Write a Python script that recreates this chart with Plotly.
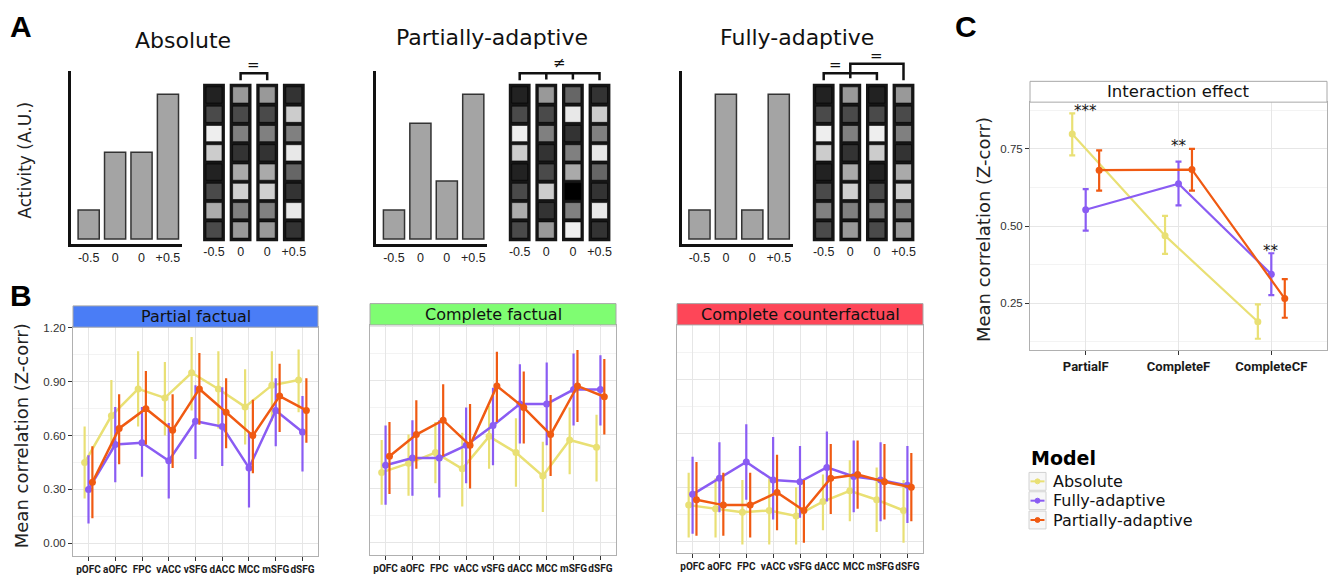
import plotly.graph_objects as go

W, H = 1330, 579
FONT = "DejaVu Sans"
NARROW = "Liberation Sans, Arial"
CONDENSED = "Roboto, Liberation Sans, Arial"
HEAVY = "Liberation Sans, Arial"

# ---------------- DATA ----------------
# Panel A : hypothetical activity (A.U.) for the four outcome levels
A_LEVELS = ["-0.5", "0", "0", "+0.5"]
A_TITLES = ["Absolute", "Partially-adaptive", "Fully-adaptive"]
ACT_ABSOLUTE = [1, 3, 3, 5]
ACT_PARTIAL = [1, 4, 2, 5]
ACT_FULLY = [1, 5, 1, 5]

# Panel A : voxel patterns (grey level 0 = black, 255 = white), one list per column, top -> bottom
PAT_ABSOLUTE = [
    [34, 74, 238, 204, 34, 74, 172, 74],
    [153, 74, 128, 51, 170, 208, 128, 153],
    [153, 74, 128, 51, 170, 208, 128, 153],
    [51, 204, 128, 232, 102, 51, 232, 51],
]
PAT_PARTIAL = [
    [34, 74, 238, 204, 34, 74, 172, 74],
    [153, 74, 128, 51, 74, 204, 51, 153],
    [102, 232, 51, 128, 170, 0, 128, 240],
    [51, 204, 128, 232, 102, 51, 232, 51],
]
PAT_FULLY = [
    [34, 74, 238, 204, 34, 74, 128, 74],
    [153, 74, 128, 51, 170, 208, 128, 153],
    [34, 74, 238, 204, 34, 74, 128, 74],
    [153, 74, 128, 51, 170, 208, 128, 153],
]

# Panel B
REGIONS = ["pOFC", "aOFC", "FPC", "vACC", "vSFG", "dACC", "MCC", "mSFG", "dSFG"]
CONDITIONS = ["Partial factual", "Complete factual", "Complete counterfactual"]
MODELS = ["Absolute", "Fully-adaptive", "Partially-adaptive"]

PF_ABS_MEAN = [0.45, 0.71, 0.86, 0.81, 0.95, 0.86, 0.76, 0.88, 0.91]
PF_ABS_UP = [0.65, 0.91, 1.07, 1.01, 1.15, 1.07, 0.97, 1.07, 1.08]
PF_ABS_LO = [0.25, 0.51, 0.65, 0.60, 0.74, 0.64, 0.55, 0.68, 0.73]
PF_FUL_MEAN = [0.30, 0.55, 0.56, 0.46, 0.68, 0.65, 0.42, 0.74, 0.62]
PF_FUL_UP = [0.49, 0.76, 0.76, 0.67, 0.88, 0.87, 0.62, 0.92, 0.82]
PF_FUL_LO = [0.11, 0.34, 0.37, 0.25, 0.47, 0.43, 0.20, 0.54, 0.40]
PF_PAR_MEAN = [0.34, 0.64, 0.75, 0.63, 0.86, 0.73, 0.60, 0.82, 0.74]
PF_PAR_UP = [0.54, 0.83, 0.96, 0.83, 1.06, 0.92, 0.80, 1.00, 0.92]
PF_PAR_LO = [0.14, 0.44, 0.55, 0.42, 0.66, 0.53, 0.39, 0.62, 0.56]

CF_ABS_MEAN = [0.39, 0.44, 0.50, 0.41, 0.59, 0.50, 0.37, 0.57, 0.53]
CF_ABS_UP = [0.57, 0.60, 0.67, 0.61, 0.76, 0.69, 0.56, 0.75, 0.71]
CF_ABS_LO = [0.21, 0.26, 0.33, 0.20, 0.41, 0.31, 0.17, 0.38, 0.34]
CF_FUL_MEAN = [0.43, 0.47, 0.47, 0.54, 0.65, 0.77, 0.77, 0.85, 0.85]
CF_FUL_UP = [0.65, 0.68, 0.68, 0.75, 0.86, 0.99, 1.00, 1.05, 1.04]
CF_FUL_LO = [0.21, 0.26, 0.25, 0.33, 0.43, 0.55, 0.54, 0.65, 0.65]
CF_PAR_MEAN = [0.48, 0.60, 0.68, 0.54, 0.87, 0.75, 0.60, 0.87, 0.81]
CF_PAR_UP = [0.67, 0.79, 0.88, 0.77, 1.06, 0.95, 0.82, 1.07, 1.02]
CF_PAR_LO = [0.27, 0.41, 0.48, 0.30, 0.67, 0.55, 0.37, 0.67, 0.60]

CCF_ABS_MEAN = [0.20, 0.18, 0.16, 0.17, 0.14, 0.22, 0.28, 0.23, 0.17]
CCF_ABS_UP = [0.38, 0.35, 0.34, 0.35, 0.30, 0.37, 0.45, 0.41, 0.34]
CCF_ABS_LO = [0.02, 0.02, -0.02, -0.02, -0.02, 0.06, 0.11, 0.05, -0.01]
CCF_FUL_MEAN = [0.26, 0.35, 0.44, 0.34, 0.33, 0.41, 0.36, 0.34, 0.31]
CCF_FUL_UP = [0.47, 0.55, 0.65, 0.58, 0.53, 0.61, 0.56, 0.55, 0.53]
CCF_FUL_LO = [0.04, 0.16, 0.23, 0.12, 0.13, 0.22, 0.16, 0.11, 0.10]
CCF_PAR_MEAN = [0.23, 0.20, 0.20, 0.27, 0.17, 0.35, 0.37, 0.33, 0.30]
CCF_PAR_UP = [0.44, 0.38, 0.38, 0.48, 0.34, 0.54, 0.56, 0.54, 0.49]
CCF_PAR_LO = [0.03, 0.03, 0.02, 0.06, -0.01, 0.15, 0.18, 0.12, 0.11]

# Panel C
C_CATS = ["PartialF", "CompleteF", "CompleteCF"]
C_ABS_MEAN = [0.798, 0.469, 0.190]
C_ABS_UP = [0.865, 0.533, 0.246]
C_ABS_LO = [0.729, 0.410, 0.135]
C_FUL_MEAN = [0.553, 0.637, 0.344]
C_FUL_UP = [0.620, 0.709, 0.412]
C_FUL_LO = [0.485, 0.567, 0.276]
C_PAR_MEAN = [0.681, 0.683, 0.265]
C_PAR_UP = [0.745, 0.750, 0.328]
C_PAR_LO = [0.615, 0.615, 0.203]
C_STARS = ["***", "**", "**"]

# ---------------- STYLE ----------------
MODEL_COLORS = {"Absolute": "#E9E074", "Fully-adaptive": "#8A5CF3", "Partially-adaptive": "#F05A12"}
STRIP_COLORS = ["#4A7DF6", "#7FFD72", "#FE4658"]


def px(x):
    return x / W


def py(y):
    return 1 - y / H


def sfx(i):
    return "" if i == 1 else str(i)


fig = go.Figure()
layout = {}
shapes = []
annotations = []


def note(text, x, y, size, family=FONT, color="#111", xref="paper", yref="paper", **kw):
    d = dict(text=text, x=x, y=y, xref=xref, yref=yref, showarrow=False,
             xanchor="center", yanchor="middle", font=dict(family=family, size=size, color=color))
    d.update(kw)
    annotations.append(d)


def set_axes(i, xl, xr, yt, yb, xopts, yopts):
    layout["xaxis" + sfx(i)] = dict(domain=[px(xl), px(xr)], anchor="y" + sfx(i), **xopts)
    layout["yaxis" + sfx(i)] = dict(domain=[py(yb), py(yt)], anchor="x" + sfx(i), **yopts)


# ---------------- PANEL A ----------------
A_ACTS = [ACT_ABSOLUTE, ACT_PARTIAL, ACT_FULLY]
A_PATS = [PAT_ABSOLUTE, PAT_PARTIAL, PAT_FULLY]
A_BAR_LEFT = [70.7, 376.0, 681.5]
A_MAT_C0 = [214.0, 519.7, 823.7]
A_TITLE_X = [183, 491.7, 796.7]
A_TITLE_Y = [36, 33, 33]

for g in range(3):
    ib, im = g + 1, g + 4
    xl = A_BAR_LEFT[g]
    set_axes(ib, xl, xl + 111, 67, 241.5,
             dict(range=[-0.68, 3.52], showline=True, linecolor="#111", linewidth=2.5,
                  tickvals=[0, 1, 2, 3], ticktext=A_LEVELS, ticks="", showgrid=False, zeroline=False,
                  tickfont=dict(family=NARROW, size=12.5, color="#222")),
             dict(range=[-0.19, 5.79], showline=True, linecolor="#111", linewidth=2.5,
                  showticklabels=False, ticks="", showgrid=False, zeroline=False))
    c0 = A_MAT_C0[g]
    set_axes(im, c0 - 13.3, c0 + 93.1, 45, 240,
             dict(range=[-0.5, 3.5], showline=False, tickvals=[0, 1, 2, 3], ticktext=A_LEVELS,
                  ticks="", showgrid=False, zeroline=False,
                  tickfont=dict(family=NARROW, size=12.5, color="#222")),
             dict(range=[-0.17, 9.85], visible=False, showgrid=False, zeroline=False))

    fig.add_trace(go.Bar(x=[0, 1, 2, 3], y=A_ACTS[g], width=0.8,
                         marker=dict(color="#a4a4a4", line=dict(color="#333", width=1.5)),
                         xaxis="x" + sfx(ib), yaxis="y" + sfx(ib), showlegend=False, hoverinfo="skip"))
    pat = A_PATS[g]
    n_rows = len(pat[0])
    fig.add_trace(go.Bar(x=[0, 1, 2, 3], y=[n_rows + 0.16] * 4, base=[-0.08] * 4, width=0.82,
                         marker=dict(color="#151515", line=dict(width=0)),
                         xaxis="x" + sfx(im), yaxis="y" + sfx(im), showlegend=False, hoverinfo="skip"))
    xs, bases, cols = [], [], []
    for k, column in enumerate(pat):
        for r, lvl in enumerate(column):
            xs.append(k)
            bases.append(n_rows - 1 - r + 0.08)
            cols.append(f"rgb({lvl},{lvl},{lvl})")
    fig.add_trace(go.Bar(x=xs, y=[0.84] * len(xs), base=bases, width=0.6,
                         marker=dict(color=cols, line=dict(color="#000", width=0.6)),
                         xaxis="x" + sfx(im), yaxis="y" + sfx(im), showlegend=False, hoverinfo="skip"))

    note(A_TITLES[g], px(A_TITLE_X[g]), py(A_TITLE_Y[g]), 22)

# brackets over the pattern columns
BR = dict(color="#111", width=2.5)
shapes.append(dict(type="path", xref="x4", yref="y4", path="M 1,8.26 L 1,8.62 L 2,8.62 L 2,8.26", line=BR))
note("=", 1.5, 9.05, 15, xref="x4", yref="y4")
shapes.append(dict(type="path", xref="x5", yref="y5",
                   path="M 0,8.26 L 0,8.62 L 3,8.62 L 3,8.26 M 1,8.62 L 1,8.3 M 2,8.62 L 2,8.3", line=BR))
note("≠", 1.5, 9.17, 15, xref="x5", yref="y5")
shapes.append(dict(type="path", xref="x6", yref="y6", path="M 0,8.26 L 0,8.62 L 2,8.62 L 2,8.26", line=BR))
shapes.append(dict(type="path", xref="x6", yref="y6", path="M 1,8.36 L 1,9.12 L 3,9.12 L 3,8.26", line=BR))
note("=", 0.45, 9.03, 15, xref="x6", yref="y6")
note("=", 2.0, 9.5, 15, xref="x6", yref="y6")

note("Activity (A.U.)", px(25), py(157), 17, color="#222", textangle=-90)

# ---------------- PANEL B ----------------
B_SERIES = [
    [(PF_ABS_MEAN, PF_ABS_UP, PF_ABS_LO), (PF_FUL_MEAN, PF_FUL_UP, PF_FUL_LO), (PF_PAR_MEAN, PF_PAR_UP, PF_PAR_LO)],
    [(CF_ABS_MEAN, CF_ABS_UP, CF_ABS_LO), (CF_FUL_MEAN, CF_FUL_UP, CF_FUL_LO), (CF_PAR_MEAN, CF_PAR_UP, CF_PAR_LO)],
    [(CCF_ABS_MEAN, CCF_ABS_UP, CCF_ABS_LO), (CCF_FUL_MEAN, CCF_FUL_UP, CCF_FUL_LO), (CCF_PAR_MEAN, CCF_PAR_UP, CCF_PAR_LO)],
]
B_BOX = [(73, 318, 325, 556), (370, 616, 322.7, 555), (677, 923, 322.7, 553)]
B_YRANGE = [[-0.072, 1.204], [-0.07, 1.209], [-0.068, 1.204]]
STRIP_H = 21.5

for c in range(3):
    i = 7 + c
    xl, xr, yt, yb = B_BOX[c]
    set_axes(i, xl, xr, yt, yb,
             dict(type="category", categoryorder="array", categoryarray=REGIONS, range=[-0.58, 8.58],
                  showgrid=True, gridcolor="#e6e6e6", gridwidth=1, ticks="outside", ticklen=4,
                  tickcolor="#333", showline=True, mirror=True, linecolor="#b0b0b0", linewidth=1,
                  zeroline=False, tickangle=0,
                  tickfont=dict(family=CONDENSED, size=10, color="#1a1a1a", weight="bold")),
             dict(range=B_YRANGE[c], tick0=0, dtick=0.3, tickformat=".2f", showgrid=True,
                  gridcolor="#e6e6e6", gridwidth=1,
                  minor=dict(dtick=0.15, tick0=0, showgrid=True, gridcolor="#f3f3f3", ticks=""),
                  ticks="outside" if c == 0 else "", ticklen=4, tickcolor="#333",
                  showticklabels=(c == 0), showline=True, mirror=True, linecolor="#b0b0b0",
                  linewidth=1, zeroline=False,
                  tickfont=dict(family=NARROW, size=11.5, color="#333")))
    for m, model in enumerate(MODELS):
        mean, up, lo = B_SERIES[c][m]
        fig.add_trace(go.Scatter(
            x=REGIONS, y=mean, mode="lines+markers", name=model, legendgroup=model,
            offsetgroup=model, showlegend=False, hoverinfo="skip",
            line=dict(color=MODEL_COLORS[model], width=2.5),
            marker=dict(color=MODEL_COLORS[model], size=7),
            error_y=dict(type="data", symmetric=False,
                         array=[u - v for u, v in zip(up, mean)],
                         arrayminus=[v - l for v, l in zip(mean, lo)],
                         color=MODEL_COLORS[model], thickness=2.2, width=0),
            xaxis="x" + sfx(i), yaxis="y" + sfx(i)))
    h = yb - yt
    shapes.append(dict(type="rect", xref=f"x{i} domain", yref=f"y{i} domain", x0=0, x1=1,
                       y0=1, y1=1 + STRIP_H / h, fillcolor=STRIP_COLORS[c],
                       line=dict(color="#a8a8a8", width=1)))
    note(CONDITIONS[c], 0.5, 1 + STRIP_H / 2 / h, 16, xref=f"x{i} domain", yref=f"y{i} domain")

note("Mean correlation (Z-corr)", px(21), py(435), 18, color="#222", textangle=-90)

# ---------------- PANEL C ----------------
C_SERIES = [(C_ABS_MEAN, C_ABS_UP, C_ABS_LO), (C_FUL_MEAN, C_FUL_UP, C_FUL_LO), (C_PAR_MEAN, C_PAR_UP, C_PAR_LO)]
set_axes(10, 1030, 1327, 98, 348,
         dict(type="category", categoryorder="array", categoryarray=C_CATS, range=[-0.6, 2.6],
              showgrid=True, gridcolor="#e6e6e6", ticks="outside", ticklen=4, tickcolor="#333",
              showline=True, mirror=True, linecolor="#b0b0b0", linewidth=1, zeroline=False, tickangle=0,
              tickfont=dict(family=CONDENSED, size=13, color="#1a1a1a", weight="bold")),
         dict(range=[0.0985, 0.9015], tickvals=[0.25, 0.5, 0.75], tickformat=".2f", showgrid=True,
              gridcolor="#e6e6e6", minor=dict(dtick=0.125, tick0=0, showgrid=True, gridcolor="#f3f3f3", ticks=""),
              ticks="outside", ticklen=4, tickcolor="#333", showline=True, mirror=True,
              linecolor="#b0b0b0", linewidth=1, zeroline=False,
              tickfont=dict(family=NARROW, size=11.5, color="#333")))
for m, model in enumerate(MODELS):
    mean, up, lo = C_SERIES[m]
    fig.add_trace(go.Scatter(
        x=C_CATS, y=mean, mode="lines+markers", name=model, legendgroup=model,
        offsetgroup=model, showlegend=False, hoverinfo="skip",
        line=dict(color=MODEL_COLORS[model], width=2.2),
        marker=dict(color=MODEL_COLORS[model], size=7),
        error_y=dict(type="data", symmetric=False,
                     array=[u - v for u, v in zip(up, mean)],
                     arrayminus=[v - l for v, l in zip(mean, lo)],
                     color=MODEL_COLORS[model], thickness=2.2, width=3),
        xaxis="x10", yaxis="y10"))
c_h = 348 - 98
shapes.append(dict(type="rect", xref="x10 domain", yref="y10 domain", x0=0, x1=1, y0=1, y1=1 + 21 / c_h,
                   fillcolor="#ffffff", line=dict(color="#a8a8a8", width=1)))
note("Interaction effect", 0.5, 1 + 10.5 / c_h, 16.5, xref="x10 domain", yref="y10 domain")
for k, star in enumerate(C_STARS):
    top = max(C_ABS_UP[k], C_FUL_UP[k], C_PAR_UP[k])
    note(star, k, top + 0.008, 15, xref="x10", yref="y10")
note("Mean correlation (Z-corr)", px(983), py(227), 18, color="#222", textangle=-90)

# ---------------- LEGEND (Model) ----------------
note("<b>Model</b>", px(1028.5), py(457), 19, color="#000", xanchor="left")
LEG_Y = [480.5, 500.0, 519.5]
for m, model in enumerate(MODELS):
    yc = LEG_Y[m]
    shapes.append(dict(type="rect", xref="paper", yref="paper", x0=px(1029), x1=px(1046),
                       y0=py(yc + 9), y1=py(yc - 9), fillcolor="#f7f7f7",
                       line=dict(color="#d2d2d2", width=1)))
    shapes.append(dict(type="line", xref="paper", yref="paper", x0=px(1030.5), x1=px(1044.5),
                       y0=py(yc), y1=py(yc), line=dict(color=MODEL_COLORS[model], width=2)))
    shapes.append(dict(type="circle", xref="paper", yref="paper", x0=px(1035), x1=px(1040),
                       y0=py(yc + 2.5), y1=py(yc - 2.5), fillcolor=MODEL_COLORS[model],
                       line=dict(color=MODEL_COLORS[model], width=1)))
    note(model, px(1051.5), py(yc), 16, color="#111", xanchor="left", borderpad=0)

# panel letters
for letter, lx, ly in [("A", 21, 22), ("B", 21, 293), ("C", 966, 22)]:
    note(f"<b>{letter}</b>", px(lx), py(ly), 30, family=HEAVY, color="#000")

fig.update_layout(
    **layout,
    width=W, height=H, margin=dict(l=0, r=0, t=0, b=0),
    paper_bgcolor="white", plot_bgcolor="white",
    barmode="overlay", scattermode="group", scattergap=0.565,
    shapes=shapes, annotations=annotations, hovermode=False,
    showlegend=False,
    font=dict(family=FONT),
)

fig.write_html("out.html", config={"displayModeBar": False},
               post_script="document.body.style.margin='0px';")
